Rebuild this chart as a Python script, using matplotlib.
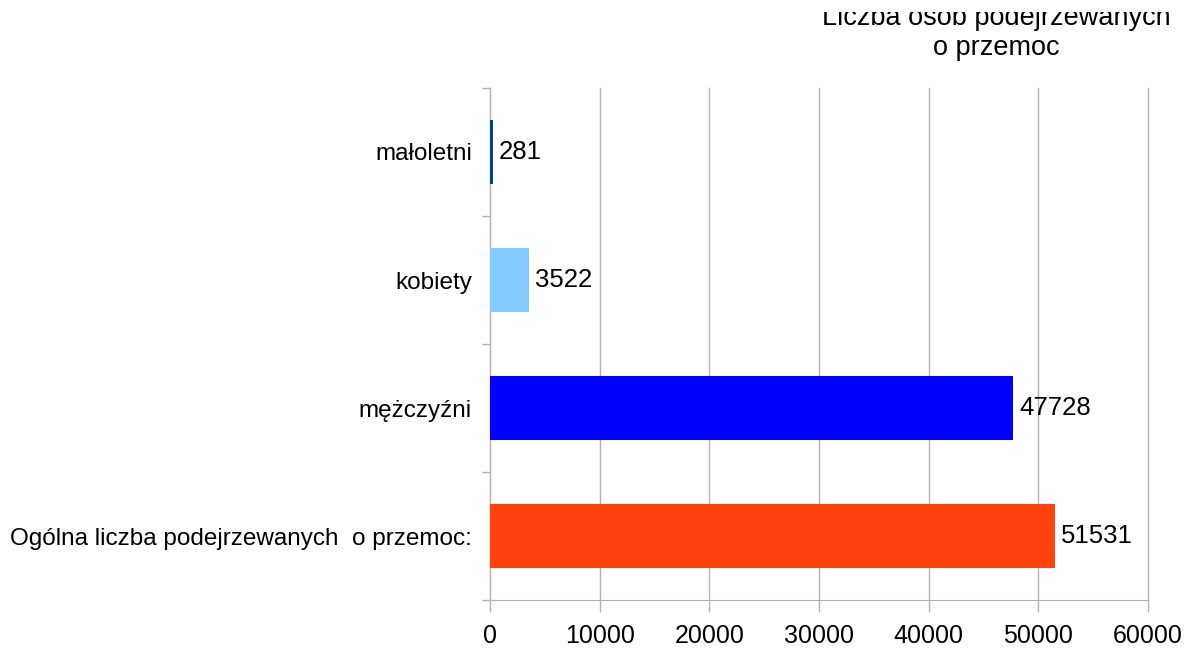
import numpy as np
import matplotlib.pyplot as plt
from matplotlib.ticker import FixedLocator
from matplotlib.patches import Rectangle

# dane
kategorie = ["Ogólna liczba podejrzewanych  o przemoc:", "mężczyźni", "kobiety", "małoletni"]
wartosci = [51531, 47728, 3522, 281]
kolory = ["#FF420E", "#0000FF", "#83CAFF", "#004586"]
ticks_x = [0, 10000, 20000, 30000, 40000, 50000, 60000]
tytul = ["Liczba osób podejrzewanych", "o przemoc"]

plt.rcParams['font.family'] = ['Liberation Sans', 'DejaVu Sans']

fig = plt.figure(figsize=(11.92, 6.53), dpi=100)
ax = fig.add_axes([490 / 1192, 53 / 653, 658 / 1192, 512 / 653])

y = np.arange(len(kategorie))
ax.barh(y, wartosci, height=0.5, color=kolory, zorder=3)

for yi, v in zip(y, wartosci):
    ax.text(v + 550, yi, str(v), va='center', ha='left', fontsize=18.5, color='black')

ax.set_xlim(0, 60000)
ax.set_ylim(-0.5, len(kategorie) - 0.5)
ax.set_xticks(ticks_x)
ax.set_xticklabels([str(t) for t in ticks_x], fontsize=18)
ax.set_yticks(y)
ax.set_yticklabels(kategorie, fontsize=17.5)
ax.yaxis.set_minor_locator(FixedLocator(np.arange(-0.5, len(kategorie), 1.0)))

ax.grid(axis='x', color='#b3b3b3', linewidth=1, zorder=0)
for gl in ax.get_xgridlines():
    gl.set_clip_on(False)
ax.tick_params(axis='y', which='major', length=0, pad=13)
ax.tick_params(axis='y', which='minor', length=6, color='#b3b3b3', width=1)
ax.tick_params(axis='x', length=8.6, color='#b3b3b3', width=1, pad=9)

for s in ['top', 'right']:
    ax.spines[s].set_visible(False)
for s in ['left', 'bottom']:
    ax.spines[s].set_color('#b3b3b3')

# tytuł - dwie linie, górna przycięta jak w oryginale
fig.text(996 / 1192, 1.0 - 25 / 653, tytul[0], ha='center', va='baseline', fontsize=19.5)
fig.text(996 / 1192, 1.0 - 55 / 653, tytul[1], ha='center', va='baseline', fontsize=19.5)
fig.patches.append(Rectangle((0, 1.0 - 12 / 653), 1, 12 / 653, transform=fig.transFigure,
                             facecolor='white', edgecolor='none', zorder=10))

fig.savefig("out.png", dpi=100)
